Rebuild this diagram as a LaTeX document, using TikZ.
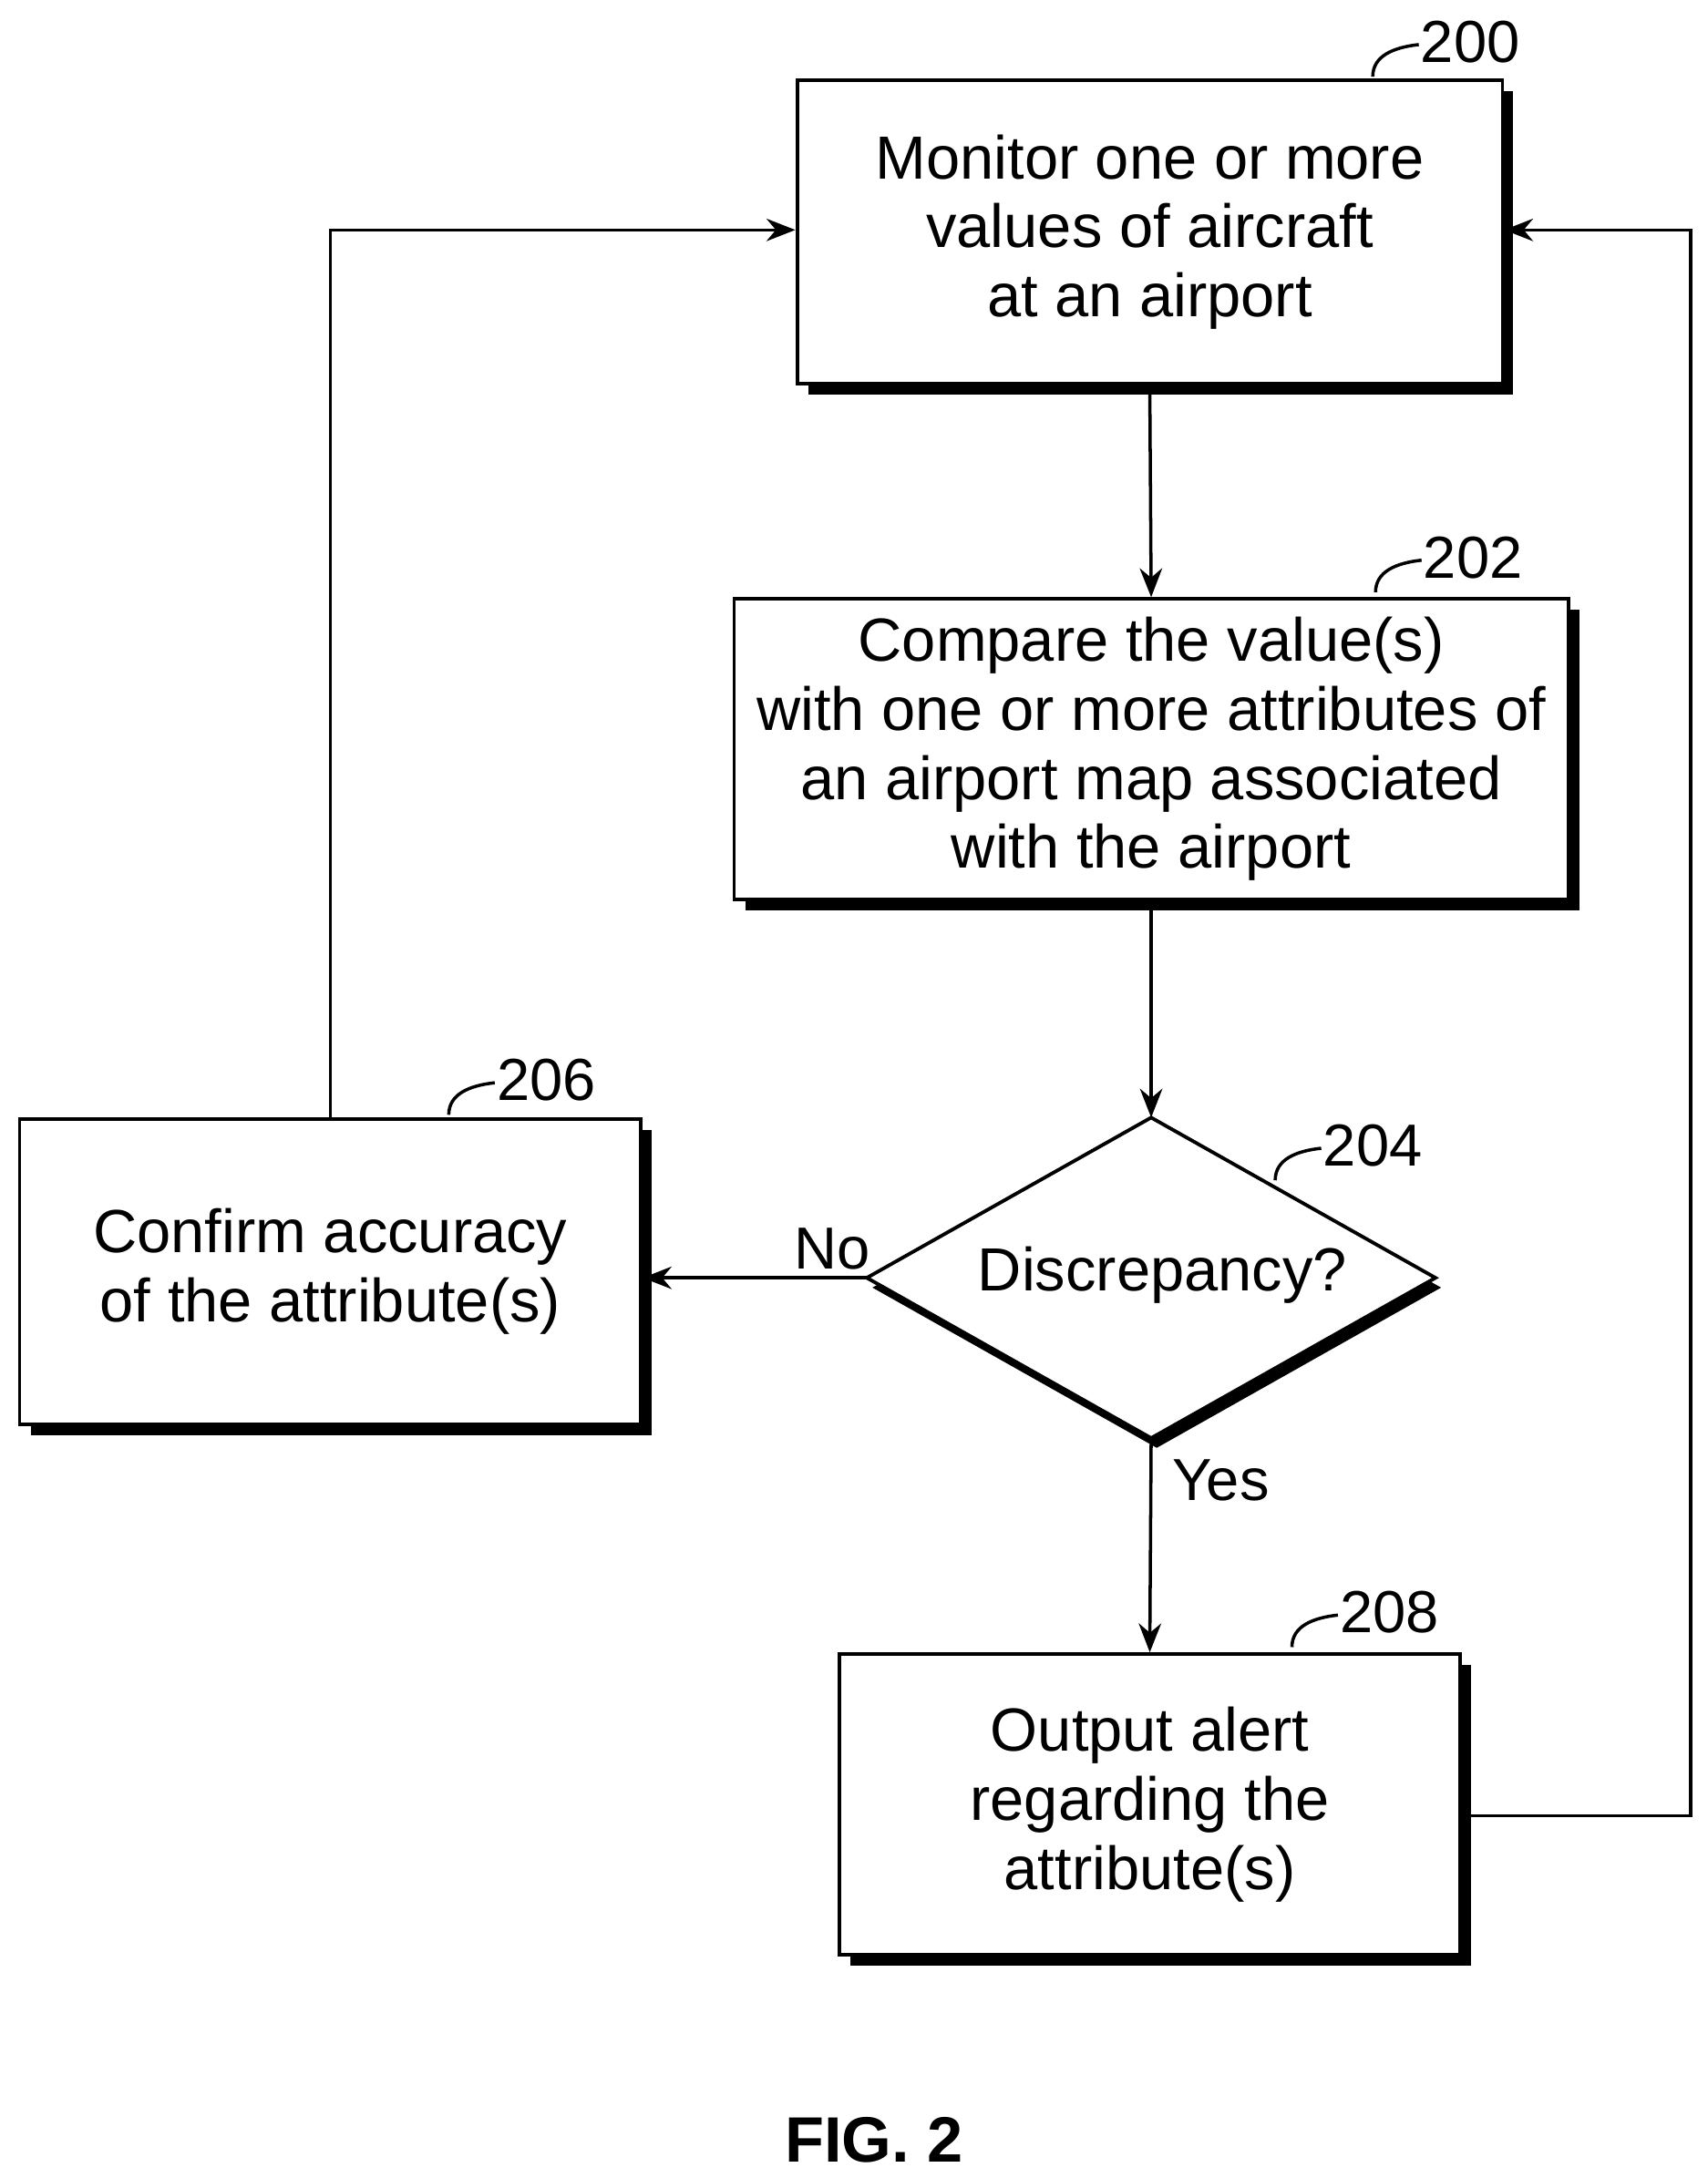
\documentclass[tikz,border=0pt]{standalone}
\usepackage{fontspec}
\setmainfont{Liberation Sans}
\usetikzlibrary{shadows,arrows.meta}
\begin{document}
\begin{tikzpicture}[x=0.01528cm,y=-0.01528cm,
  box/.style={draw,line width=1.1pt,fill=white,align=center,font=\fontsize{19}{21.5}\selectfont,
    drop shadow={opacity=1,fill=black,shadow xshift=0.12cm,shadow yshift=-0.12cm}},
  arr/.style={line width=1pt,-{Stealth[length=9pt,width=7pt]}},
  lbl/.style={font=\fontsize{18.5}{21}\selectfont},
  sq/.style={line width=1pt}]
\useasboundingbox (0,0) rectangle (1225,1563);
\node[box,minimum width=7.73cm,minimum height=3.32cm] (n200) at (825,166.5) {Monitor one or more\\values of aircraft\\at an airport};
\node[box,minimum width=9.14cm,minimum height=3.29cm] (n202) at (826,537.5) {Compare the value(s)\\with one or more attributes of\\an airport map associated\\with the airport};
\node[box,minimum width=6.81cm,minimum height=3.35cm] (n206) at (237,912.5) {Confirm accuracy\\of the attribute(s)};
\node[box,minimum width=6.81cm,minimum height=3.30cm] (n208) at (825,1295) {Output alert\\regarding the\\attribute(s)};
% diamond
\coordinate (dt) at (826,802);
\coordinate (dl) at (622,917);
\coordinate (db) at (826,1032);
\coordinate (dr) at (1030,917);
\fill[black] ([shift={(4,7)}]dt) -- ([shift={(4,7)}]dr) -- ([shift={(4,7)}]db) -- ([shift={(4,7)}]dl) -- cycle;
\draw[line width=1.1pt,fill=white] (dt) -- (dr) -- (db) -- (dl) -- cycle;
\node[font=\fontsize{19}{21}\selectfont] (n204) at (834,915) {Discrepancy?};
% connectors
\draw[arr] (n200.south) -- (n202.north);
\draw[arr] (n202.south) -- (dt);
\draw[arr] (dl) -- (n206.east |- dl);
\draw[arr] (db) -- (n208.north);
\coordinate (c1) at (237,165);
\draw[arr] (n206.north) -- (c1) -- (n200.west |- c1);
\coordinate (c2) at (1213,1303);
\coordinate (c3) at (1213,165);
\draw[arr] (n208.east |- c2) -- (c2) -- (c3) -- (n200.east |- c3);
\node[lbl] (no) at (597,896) {No};
\node[lbl] (yes) at (876,1062) {Yes};
% ref labels
\foreach \n/\x/\y in {200/1055/30, 202/1057/400, 204/985/822, 206/392/775, 208/997/1157}{
  \node[lbl] (r\n) at (\x,\y) {\n};
  \draw[sq] (\x-70,\y+25) .. controls (\x-70,\y+10) and (\x-55,\y+4) .. (\x-37,\y+2);
}
\node[font=\fontsize{20}{24}\selectfont\bfseries] (fig) at (627,1536) {FIG. 2};
\end{tikzpicture}
\end{document}
